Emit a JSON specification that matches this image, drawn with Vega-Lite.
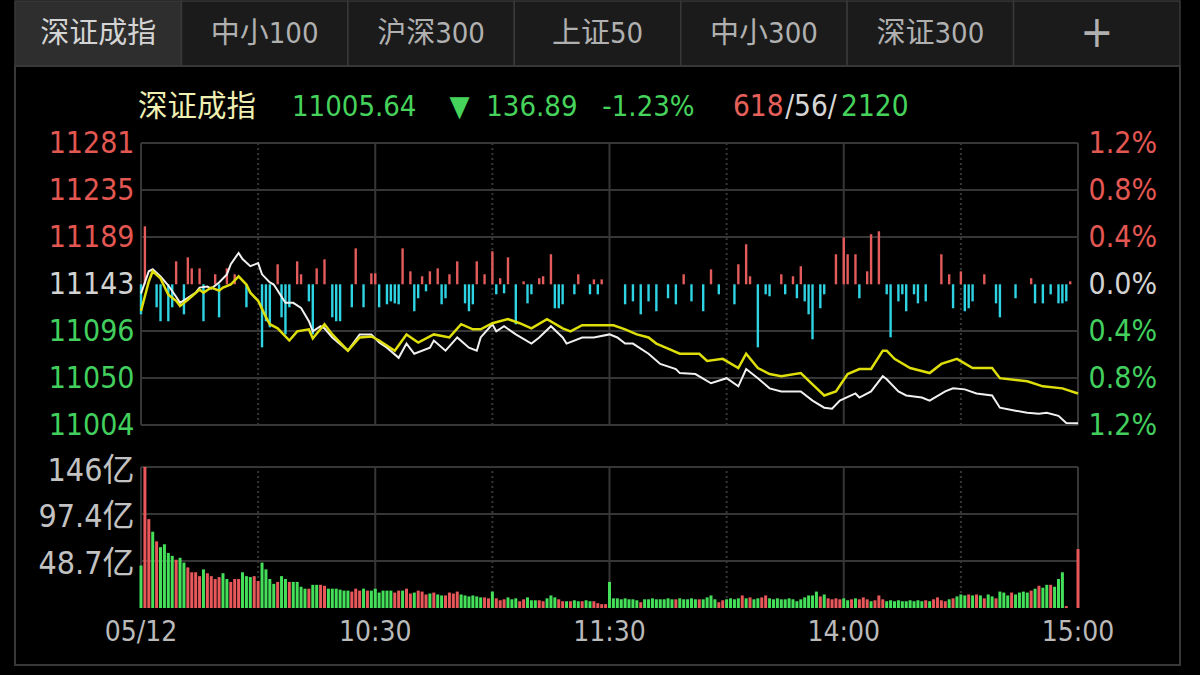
{
  "$schema": "https://vega.github.io/schema/vega-lite/v6.json",
  "background": "#000000",
  "padding": {"left": 14, "top": 0, "right": 19, "bottom": 9},
  "bounds": "flush",
  "spacing": 0,
  "config": {
    "font": "Liberation Sans Narrow, DejaVu Sans Condensed, Noto Sans CJK SC, sans-serif",
    "view": {"stroke": null},
    "axis": {"domain": false, "ticks": false, "grid": false, "labelOverlap": false, "labelFlush": false}
  },
  "datasets": {
    "vgrid": [
      {"m": 0, "kind": "solid"}, {"m": 30, "kind": "dot"}, {"m": 60, "kind": "solid"}, {"m": 90, "kind": "dot"},
      {"m": 120, "kind": "solid"}, {"m": 150, "kind": "dot"}, {"m": 180, "kind": "solid"}, {"m": 210, "kind": "dot"}, {"m": 240, "kind": "solid"}
    ],
    "price": [
      {"m":0,"p":11133},{"m":2,"p":11155},{"m":3,"p":11157},{"m":5,"p":11150},{"m":7,"p":11141},{"m":9,"p":11130},{"m":10,"p":11124},{"m":12,"p":11129},{"m":14,"p":11134},{"m":15,"p":11139},{"m":17,"p":11140},{"m":18,"p":11138},{"m":20,"p":11144},{"m":22,"p":11152},{"m":23,"p":11162},{"m":25,"p":11173},{"m":26,"p":11167},{"m":28,"p":11160},{"m":30,"p":11163},{"m":31,"p":11152},{"m":33,"p":11144},{"m":34,"p":11142},{"m":37,"p":11124},{"m":39,"p":11124},{"m":41,"p":11119},{"m":43,"p":11106},{"m":44,"p":11096},{"m":46,"p":11101},{"m":47,"p":11099},{"m":49,"p":11090},{"m":53,"p":11077},{"m":56,"p":11093},{"m":59,"p":11093},{"m":61,"p":11085},{"m":63,"p":11080},{"m":66,"p":11070},{"m":68,"p":11084},{"m":70,"p":11074},{"m":74,"p":11080},{"m":75,"p":11087},{"m":78,"p":11077},{"m":81,"p":11090},{"m":84,"p":11080},{"m":86,"p":11077},{"m":87,"p":11090},{"m":90,"p":11103},{"m":91,"p":11096},{"m":93,"p":11101},{"m":96,"p":11093},{"m":100,"p":11084},{"m":102,"p":11090},{"m":105,"p":11101},{"m":108,"p":11090},{"m":109,"p":11084},{"m":113,"p":11090},{"m":116,"p":11090},{"m":120,"p":11093},{"m":122,"p":11090},{"m":124,"p":11084},{"m":126,"p":11084},{"m":130,"p":11074},{"m":133,"p":11064},{"m":137,"p":11059},{"m":138,"p":11055},{"m":142,"p":11054},{"m":146,"p":11045},{"m":150,"p":11050},{"m":153,"p":11042},{"m":155,"p":11059},{"m":158,"p":11050},{"m":161,"p":11040},{"m":164,"p":11037},{"m":169,"p":11037},{"m":172,"p":11028},{"m":175,"p":11021},{"m":177,"p":11020},{"m":179,"p":11028},{"m":183,"p":11035},{"m":184,"p":11031},{"m":187,"p":11037},{"m":190,"p":11052},{"m":191,"p":11049},{"m":194,"p":11037},{"m":196,"p":11033},{"m":200,"p":11031},{"m":202,"p":11028},{"m":206,"p":11037},{"m":208,"p":11040},{"m":211,"p":11039},{"m":214,"p":11035},{"m":218,"p":11033},{"m":220,"p":11021},{"m":224,"p":11018},{"m":227,"p":11016},{"m":230,"p":11015},{"m":232,"p":11016},{"m":235,"p":11013},{"m":237,"p":11006},{"m":240,"p":11005.64}
    ],
    "avg": [
      {"m":0,"p":11116},{"m":2,"p":11145},{"m":3,"p":11155},{"m":5,"p":11148},{"m":7,"p":11132},{"m":9,"p":11126},{"m":10,"p":11121},{"m":12,"p":11127},{"m":15,"p":11137},{"m":16,"p":11134},{"m":18,"p":11139},{"m":20,"p":11136},{"m":21,"p":11139},{"m":23,"p":11142},{"m":25,"p":11150},{"m":27,"p":11142},{"m":28,"p":11134},{"m":30,"p":11126},{"m":32,"p":11110},{"m":33,"p":11103},{"m":35,"p":11099},{"m":38,"p":11087},{"m":40,"p":11096},{"m":43,"p":11098},{"m":44,"p":11089},{"m":47,"p":11103},{"m":49,"p":11093},{"m":53,"p":11077},{"m":56,"p":11090},{"m":59,"p":11091},{"m":61,"p":11087},{"m":65,"p":11077},{"m":68,"p":11093},{"m":71,"p":11085},{"m":75,"p":11093},{"m":79,"p":11090},{"m":82,"p":11103},{"m":85,"p":11098},{"m":87,"p":11098},{"m":90,"p":11104},{"m":94,"p":11108},{"m":97,"p":11104},{"m":100,"p":11099},{"m":104,"p":11108},{"m":108,"p":11099},{"m":110,"p":11096},{"m":113,"p":11102},{"m":117,"p":11102},{"m":121,"p":11102},{"m":124,"p":11098},{"m":127,"p":11093},{"m":130,"p":11090},{"m":132,"p":11084},{"m":135,"p":11079},{"m":138,"p":11074},{"m":143,"p":11074},{"m":145,"p":11067},{"m":149,"p":11069},{"m":153,"p":11060},{"m":155,"p":11074},{"m":158,"p":11060},{"m":161,"p":11054},{"m":164,"p":11052},{"m":169,"p":11055},{"m":172,"p":11044},{"m":175,"p":11033},{"m":178,"p":11037},{"m":181,"p":11054},{"m":184,"p":11059},{"m":187,"p":11059},{"m":190,"p":11077},{"m":191,"p":11077},{"m":193,"p":11069},{"m":197,"p":11060},{"m":202,"p":11055},{"m":205,"p":11064},{"m":209,"p":11069},{"m":213,"p":11060},{"m":218,"p":11060},{"m":220,"p":11050},{"m":227,"p":11047},{"m":231,"p":11042},{"m":236,"p":11040},{"m":240,"p":11035}
    ],
    "strength": [
      {"m":0,"v":-21.3},{"m":1,"v":41.1},{"m":4,"v":-16.3},{"m":5,"v":-26.2},{"m":7,"v":-26.2},{"m":8,"v":-16.3},{"m":9,"v":16.3},{"m":11,"v":-21.3},{"m":12,"v":19.1},{"m":13,"v":11.3},{"m":15,"v":11.3},{"m":16,"v":-26.2},{"m":19,"v":7.1},{"m":20,"v":-23.4},{"m":22,"v":11.3},{"m":24,"v":7.1},{"m":27,"v":-16.3},{"m":31,"v":-44.7},{"m":32,"v":-26.2},{"m":33,"v":-30.5},{"m":35,"v":14.2},{"m":36,"v":-23.4},{"m":37,"v":-35.5},{"m":38,"v":-16.3},{"m":40,"v":16.3},{"m":41,"v":7.1},{"m":43,"v":-12.1},{"m":44,"v":-35.5},{"m":45,"v":11.3},{"m":47,"v":17.7},{"m":49,"v":-23.4},{"m":50,"v":-26.2},{"m":51,"v":-26.2},{"m":54,"v":-16.3},{"m":55,"v":25.5},{"m":57,"v":-16.3},{"m":59,"v":7.8},{"m":60,"v":7.8},{"m":61,"v":-16.3},{"m":63,"v":-14.2},{"m":64,"v":-12.1},{"m":65,"v":-13.5},{"m":66,"v":-14.2},{"m":67,"v":25.5},{"m":69,"v":9.2},{"m":70,"v":-19.1},{"m":71,"v":-9.9},{"m":72,"v":5.7},{"m":73,"v":-5.0},{"m":74,"v":9.2},{"m":76,"v":11.3},{"m":77,"v":-14.2},{"m":78,"v":-9.9},{"m":79,"v":7.1},{"m":81,"v":16.3},{"m":83,"v":-13.5},{"m":84,"v":-19.1},{"m":85,"v":-14.2},{"m":86,"v":16.3},{"m":88,"v":7.1},{"m":90,"v":23.4},{"m":91,"v":-7.1},{"m":92,"v":4.3},{"m":93,"v":-6.4},{"m":94,"v":19.1},{"m":96,"v":-28.4},{"m":98,"v":2.1},{"m":99,"v":-13.5},{"m":100,"v":-7.1},{"m":102,"v":4.3},{"m":103,"v":5.7},{"m":105,"v":21.3},{"m":106,"v":-17.0},{"m":107,"v":-17.0},{"m":108,"v":-14.2},{"m":111,"v":-7.1},{"m":112,"v":7.1},{"m":115,"v":-7.1},{"m":116,"v":3.5},{"m":117,"v":-7.1},{"m":118,"v":3.5},{"m":124,"v":-14.2},{"m":126,"v":-12.1},{"m":128,"v":-21.3},{"m":130,"v":-12.1},{"m":132,"v":-19.1},{"m":135,"v":-9.9},{"m":137,"v":-14.2},{"m":139,"v":7.1},{"m":141,"v":-12.1},{"m":144,"v":-19.1},{"m":146,"v":10.6},{"m":148,"v":-7.1},{"m":152,"v":-14.2},{"m":153,"v":14.2},{"m":155,"v":28.4},{"m":156,"v":5.7},{"m":158,"v":-44.7},{"m":160,"v":-7.1},{"m":161,"v":-8.5},{"m":164,"v":7.1},{"m":165,"v":-7.1},{"m":167,"v":5.7},{"m":168,"v":-9.9},{"m":169,"v":12.8},{"m":170,"v":-12.1},{"m":171,"v":-21.3},{"m":172,"v":-39.0},{"m":174,"v":-17.0},{"m":175,"v":-7.1},{"m":178,"v":21.3},{"m":180,"v":33.3},{"m":181,"v":21.3},{"m":183,"v":21.3},{"m":184,"v":-9.9},{"m":186,"v":9.2},{"m":187,"v":35.5},{"m":189,"v":37.6},{"m":191,"v":-7.1},{"m":192,"v":-37.6},{"m":194,"v":-12.1},{"m":195,"v":-7.1},{"m":196,"v":-19.1},{"m":198,"v":-7.1},{"m":199,"v":-13.5},{"m":201,"v":-12.1},{"m":205,"v":21.3},{"m":207,"v":7.1},{"m":208,"v":-17.0},{"m":210,"v":9.2},{"m":211,"v":-19.1},{"m":212,"v":-17.0},{"m":213,"v":-12.1},{"m":216,"v":7.1},{"m":219,"v":-13.5},{"m":220,"v":-23.4},{"m":224,"v":-9.9},{"m":228,"v":4.3},{"m":229,"v":-13.5},{"m":231,"v":-13.5},{"m":233,"v":-7.1},{"m":235,"v":-13.5},{"m":236,"v":-13.5},{"m":237,"v":-12.1},{"m":238,"v":2.1}
    ],
    "vol": [
      {"m":0,"v":44,"d":"dn"},{"m":1,"v":146,"d":"up"},{"m":2,"v":92,"d":"up"},{"m":3,"v":79,"d":"dn"},{"m":4,"v":69,"d":"up"},{"m":5,"v":63,"d":"dn"},{"m":6,"v":66,"d":"dn"},{"m":7,"v":57,"d":"dn"},{"m":8,"v":54,"d":"dn"},{"m":9,"v":50,"d":"up"},
      {"m":10,"v":52,"d":"dn"},{"m":11,"v":47,"d":"dn"},{"m":12,"v":42,"d":"up"},{"m":13,"v":37,"d":"up"},{"m":14,"v":37,"d":"up"},{"m":15,"v":33,"d":"up"},{"m":16,"v":40,"d":"dn"},{"m":17,"v":36,"d":"up"},{"m":18,"v":33,"d":"up"},{"m":19,"v":30,"d":"up"},
      {"m":20,"v":32,"d":"up"},{"m":21,"v":36,"d":"dn"},{"m":22,"v":30,"d":"dn"},{"m":23,"v":27,"d":"up"},{"m":24,"v":30,"d":"up"},{"m":25,"v":30,"d":"up"},{"m":26,"v":37,"d":"dn"},{"m":27,"v":33,"d":"dn"},{"m":28,"v":32,"d":"dn"},{"m":29,"v":33,"d":"up"},
      {"m":30,"v":28,"d":"up"},{"m":31,"v":47,"d":"dn"},{"m":32,"v":40,"d":"dn"},{"m":33,"v":30,"d":"dn"},{"m":34,"v":25,"d":"dn"},{"m":35,"v":27,"d":"up"},{"m":36,"v":33,"d":"dn"},{"m":37,"v":30,"d":"dn"},{"m":38,"v":27,"d":"up"},{"m":39,"v":27,"d":"dn"},
      {"m":40,"v":27,"d":"dn"},{"m":41,"v":22,"d":"dn"},{"m":42,"v":20,"d":"dn"},{"m":43,"v":20,"d":"up"},{"m":44,"v":24,"d":"dn"},{"m":45,"v":24,"d":"dn"},{"m":46,"v":24,"d":"up"},{"m":47,"v":23,"d":"up"},{"m":48,"v":20,"d":"dn"},{"m":49,"v":20,"d":"dn"},
      {"m":50,"v":20,"d":"dn"},{"m":51,"v":19,"d":"dn"},{"m":52,"v":18,"d":"dn"},{"m":53,"v":18,"d":"dn"},{"m":54,"v":17,"d":"up"},{"m":55,"v":20,"d":"up"},{"m":56,"v":18,"d":"up"},{"m":57,"v":20,"d":"dn"},{"m":58,"v":18,"d":"up"},{"m":59,"v":18,"d":"dn"},
      {"m":60,"v":20,"d":"dn"},{"m":61,"v":16,"d":"dn"},{"m":62,"v":18,"d":"dn"},{"m":63,"v":18,"d":"dn"},{"m":64,"v":18,"d":"dn"},{"m":65,"v":16,"d":"up"},{"m":66,"v":18,"d":"up"},{"m":67,"v":18,"d":"dn"},{"m":68,"v":20,"d":"up"},{"m":69,"v":15,"d":"up"},
      {"m":70,"v":16,"d":"dn"},{"m":71,"v":18,"d":"up"},{"m":72,"v":17,"d":"up"},{"m":73,"v":14,"d":"up"},{"m":74,"v":15,"d":"dn"},{"m":75,"v":16,"d":"up"},{"m":76,"v":14,"d":"dn"},{"m":77,"v":13,"d":"dn"},{"m":78,"v":13,"d":"up"},{"m":79,"v":16,"d":"up"},
      {"m":80,"v":15,"d":"up"},{"m":81,"v":17,"d":"up"},{"m":82,"v":14,"d":"dn"},{"m":83,"v":13,"d":"dn"},{"m":84,"v":12,"d":"dn"},{"m":85,"v":13,"d":"dn"},{"m":86,"v":12,"d":"dn"},{"m":87,"v":11,"d":"dn"},{"m":88,"v":11,"d":"up"},{"m":89,"v":10,"d":"up"},
      {"m":90,"v":17,"d":"dn"},{"m":91,"v":10,"d":"up"},{"m":92,"v":8,"d":"up"},{"m":93,"v":9,"d":"up"},{"m":94,"v":11,"d":"dn"},{"m":95,"v":9,"d":"dn"},{"m":96,"v":10,"d":"dn"},{"m":97,"v":7,"d":"up"},{"m":98,"v":9,"d":"up"},{"m":99,"v":11,"d":"dn"},
      {"m":100,"v":8,"d":"dn"},{"m":101,"v":8,"d":"dn"},{"m":102,"v":8,"d":"up"},{"m":103,"v":7,"d":"up"},{"m":104,"v":10,"d":"dn"},{"m":105,"v":13,"d":"dn"},{"m":106,"v":11,"d":"dn"},{"m":107,"v":9,"d":"up"},{"m":108,"v":7,"d":"up"},{"m":109,"v":7,"d":"dn"},
      {"m":110,"v":7,"d":"up"},{"m":111,"v":8,"d":"dn"},{"m":112,"v":7,"d":"dn"},{"m":113,"v":7,"d":"up"},{"m":114,"v":8,"d":"dn"},{"m":115,"v":7,"d":"dn"},{"m":116,"v":7,"d":"up"},{"m":117,"v":5,"d":"up"},{"m":118,"v":4,"d":"up"},{"m":119,"v":4,"d":"up"},
      {"m":120,"v":27,"d":"dn"},{"m":121,"v":10,"d":"dn"},{"m":122,"v":10,"d":"dn"},{"m":123,"v":9,"d":"dn"},{"m":124,"v":10,"d":"dn"},{"m":125,"v":9,"d":"dn"},{"m":126,"v":9,"d":"dn"},{"m":127,"v":8,"d":"dn"},{"m":128,"v":6,"d":"up"},{"m":129,"v":9,"d":"dn"},
      {"m":130,"v":9,"d":"dn"},{"m":131,"v":10,"d":"dn"},{"m":132,"v":9,"d":"dn"},{"m":133,"v":9,"d":"dn"},{"m":134,"v":9,"d":"dn"},{"m":135,"v":10,"d":"dn"},{"m":136,"v":9,"d":"dn"},{"m":137,"v":9,"d":"up"},{"m":138,"v":10,"d":"dn"},{"m":139,"v":9,"d":"dn"},
      {"m":140,"v":9,"d":"dn"},{"m":141,"v":10,"d":"dn"},{"m":142,"v":9,"d":"dn"},{"m":143,"v":9,"d":"up"},{"m":144,"v":9,"d":"dn"},{"m":145,"v":11,"d":"dn"},{"m":146,"v":13,"d":"dn"},{"m":147,"v":9,"d":"dn"},{"m":148,"v":6,"d":"up"},{"m":149,"v":8,"d":"up"},
      {"m":150,"v":9,"d":"dn"},{"m":151,"v":10,"d":"dn"},{"m":152,"v":9,"d":"dn"},{"m":153,"v":10,"d":"dn"},{"m":154,"v":13,"d":"up"},{"m":155,"v":10,"d":"dn"},{"m":156,"v":11,"d":"up"},{"m":157,"v":9,"d":"dn"},{"m":158,"v":10,"d":"dn"},{"m":159,"v":11,"d":"up"},
      {"m":160,"v":13,"d":"up"},{"m":161,"v":10,"d":"dn"},{"m":162,"v":9,"d":"dn"},{"m":163,"v":10,"d":"dn"},{"m":164,"v":9,"d":"dn"},{"m":165,"v":9,"d":"dn"},{"m":166,"v":10,"d":"dn"},{"m":167,"v":9,"d":"dn"},{"m":168,"v":7,"d":"dn"},{"m":169,"v":9,"d":"dn"},
      {"m":170,"v":11,"d":"dn"},{"m":171,"v":13,"d":"dn"},{"m":172,"v":13,"d":"dn"},{"m":173,"v":17,"d":"dn"},{"m":174,"v":12,"d":"up"},{"m":175,"v":14,"d":"dn"},{"m":176,"v":10,"d":"up"},{"m":177,"v":9,"d":"up"},{"m":178,"v":10,"d":"up"},{"m":179,"v":9,"d":"up"},
      {"m":180,"v":10,"d":"dn"},{"m":181,"v":8,"d":"dn"},{"m":182,"v":9,"d":"up"},{"m":183,"v":10,"d":"dn"},{"m":184,"v":9,"d":"up"},{"m":185,"v":11,"d":"up"},{"m":186,"v":9,"d":"up"},{"m":187,"v":7,"d":"dn"},{"m":188,"v":8,"d":"up"},{"m":189,"v":13,"d":"up"},
      {"m":190,"v":9,"d":"up"},{"m":191,"v":7,"d":"dn"},{"m":192,"v":8,"d":"dn"},{"m":193,"v":7,"d":"dn"},{"m":194,"v":8,"d":"dn"},{"m":195,"v":7,"d":"dn"},{"m":196,"v":7,"d":"dn"},{"m":197,"v":8,"d":"dn"},{"m":198,"v":7,"d":"dn"},{"m":199,"v":8,"d":"dn"},
      {"m":200,"v":7,"d":"dn"},{"m":201,"v":8,"d":"up"},{"m":202,"v":7,"d":"dn"},{"m":203,"v":9,"d":"up"},{"m":204,"v":11,"d":"up"},{"m":205,"v":8,"d":"up"},{"m":206,"v":7,"d":"up"},{"m":207,"v":9,"d":"dn"},{"m":208,"v":10,"d":"up"},{"m":209,"v":12,"d":"dn"},
      {"m":210,"v":14,"d":"dn"},{"m":211,"v":13,"d":"dn"},{"m":212,"v":14,"d":"up"},{"m":213,"v":13,"d":"dn"},{"m":214,"v":14,"d":"up"},{"m":215,"v":13,"d":"dn"},{"m":216,"v":10,"d":"up"},{"m":217,"v":14,"d":"dn"},{"m":218,"v":12,"d":"dn"},{"m":219,"v":10,"d":"up"},
      {"m":220,"v":17,"d":"dn"},{"m":221,"v":16,"d":"dn"},{"m":222,"v":13,"d":"dn"},{"m":223,"v":16,"d":"up"},{"m":224,"v":14,"d":"dn"},{"m":225,"v":16,"d":"dn"},{"m":226,"v":17,"d":"dn"},{"m":227,"v":16,"d":"dn"},{"m":228,"v":18,"d":"up"},{"m":229,"v":20,"d":"dn"},
      {"m":230,"v":23,"d":"up"},{"m":231,"v":21,"d":"dn"},{"m":232,"v":24,"d":"dn"},{"m":233,"v":24,"d":"up"},{"m":234,"v":22,"d":"dn"},{"m":235,"v":30,"d":"dn"},{"m":236,"v":37,"d":"dn"},{"m":237,"v":2,"d":"up"},{"m":240,"v":61,"d":"up"}
    ]
  },
  "vconcat": [
    {
      "width": 1165,
      "height": 65,
      "view": {"stroke": null, "fill": "#1b1b1b"},
      "data": {"values": [
        {"tab": "深证成指", "sel": 1}, {"tab": "中小100", "sel": 0}, {"tab": "沪深300", "sel": 0},
        {"tab": "上证50", "sel": 0}, {"tab": "中小300", "sel": 0}, {"tab": "深证300", "sel": 0}, {"tab": "+", "sel": 0}
      ]},
      "encoding": {
        "x": {"field": "tab", "type": "nominal", "sort": null, "scale": {"paddingInner": 0, "paddingOuter": 0}, "axis": null}
      },
      "layer": [
        {
          "mark": {"type": "rect", "stroke": "#383838", "strokeWidth": 1.5},
          "encoding": {"fill": {"condition": {"test": "datum.sel == 1", "value": "#2e2e2e"}, "value": "#1b1b1b"}}
        },
        {
          "mark": {"type": "text", "baseline": "middle", "align": "center"},
          "encoding": {
            "text": {"field": "tab"},
            "size": {"condition": {"test": "datum.tab == '+'", "value": 44}, "value": 29},
            "color": {"condition": {"test": "datum.sel == 1", "value": "#d4d4d4"}, "value": "#b0b0b0"}
          }
        }
      ]
    },
    {
      "width": 1165,
      "height": 599,
      "view": {"stroke": "#383838", "strokeWidth": 2},
      "resolve": {"scale": {"y": "independent", "color": "independent"}},
      "layer": [
        {
          "data": {"values": [{"level": 11004}, {"level": 11050.17}, {"level": 11096.33}, {"level": 11188.67}, {"level": 11234.83}, {"level": 11281}]},
          "mark": {"type": "rule", "color": "#363636", "strokeWidth": 2},
          "encoding": {
            "x": {"datum": 0, "type": "quantitative", "scale": {"domain": [-32.273, 266.126], "nice": false, "zero": false}, "axis": null},
            "x2": {"datum": 240},
            "y": {"field": "level", "type": "quantitative", "scale": {"domain": [10768.26, 11356.64], "nice": false, "zero": false}, "axis": null}
          }
        },
        {
          "data": {"name": "vgrid"},
          "mark": {"type": "rule", "color": "#363636", "strokeWidth": 2},
          "encoding": {
            "x": {"field": "m", "type": "quantitative", "scale": {"domain": [-32.273, 266.126], "nice": false, "zero": false}, "axis": null},
            "y": {"datum": 11004, "type": "quantitative", "scale": {"domain": [10768.26, 11356.64], "nice": false, "zero": false}, "axis": null},
            "y2": {"datum": 11281},
            "strokeDash": {"field": "kind", "type": "nominal", "scale": {"domain": ["solid", "dot"], "range": [[1, 0], [2, 3]]}, "legend": null}
          }
        },
        {
          "data": {"values": [{"level": 48.7}, {"level": 97.4}, {"level": 146}]},
          "mark": {"type": "rule", "color": "#363636", "strokeWidth": 2},
          "encoding": {
            "x": {"datum": 0, "type": "quantitative", "scale": {"domain": [-32.273, 266.126], "nice": false, "zero": false}, "axis": null},
            "x2": {"datum": 240},
            "y": {"field": "level", "type": "quantitative", "scale": {"domain": [-59.02, 561.22], "nice": false, "zero": false}, "axis": null}
          }
        },
        {
          "data": {"name": "vgrid"},
          "mark": {"type": "rule", "color": "#363636", "strokeWidth": 2},
          "encoding": {
            "x": {"field": "m", "type": "quantitative", "scale": {"domain": [-32.273, 266.126], "nice": false, "zero": false}, "axis": null},
            "y": {"datum": 0, "type": "quantitative", "scale": {"domain": [-59.02, 561.22], "nice": false, "zero": false}, "axis": null},
            "y2": {"datum": 146},
            "strokeDash": {"field": "kind", "type": "nominal", "scale": {"domain": ["solid", "dot"], "range": [[1, 0], [2, 3]]}, "legend": null}
          }
        },
        {
          "data": {"name": "strength"},
          "mark": {"type": "rule", "strokeWidth": 2.4},
          "encoding": {
            "x": {"field": "m", "type": "quantitative", "scale": {"domain": [-32.273, 266.126], "nice": false, "zero": false}, "axis": null},
            "y": {"field": "v", "type": "quantitative", "scale": {"domain": [-270.0, 154.82], "nice": false, "zero": false}, "axis": null},
            "y2": {"datum": 0},
            "color": {"condition": {"test": "datum.v > 0", "value": "#e45b5b"}, "value": "#2fd4e4"}
          }
        },
        {
          "data": {"name": "vol"},
          "mark": {"type": "rule", "strokeWidth": 3},
          "encoding": {
            "x": {"field": "m", "type": "quantitative", "scale": {"domain": [-32.273, 266.126], "nice": false, "zero": false}, "axis": null},
            "y": {"field": "v", "type": "quantitative", "scale": {"domain": [-59.02, 561.22], "nice": false, "zero": false},
                  "axis": {"orient": "left", "offset": -126, "values": [48.7, 97.4, 146], "labelExpr": "datum.value + '亿'", "labelColor": "#c2c2c2", "labelFontSize": 32, "labelPadding": 7, "labelBaseline": "middle", "labelOffset": 3, "title": null}},
            "y2": {"datum": 0},
            "color": {"field": "d", "type": "nominal", "scale": {"domain": ["up", "dn"], "range": ["#e8585a", "#44e05a"]}, "legend": null}
          }
        },
        {
          "data": {"values": [{"m": 0, "label": "05/12"}, {"m": 60, "label": "10:30"}, {"m": 120, "label": "11:30"}, {"m": 180, "label": "14:00"}, {"m": 240, "label": "15:00"}]},
          "mark": {"type": "text", "align": "center", "baseline": "middle", "fontSize": 28, "color": "#bababa"},
          "encoding": {
            "x": {"field": "m", "type": "quantitative", "scale": {"domain": [-32.273, 266.126], "nice": false, "zero": false}, "axis": null},
            "y": {"datum": -26, "type": "quantitative", "scale": {"domain": [-59.02, 561.22], "nice": false, "zero": false}, "axis": null},
            "text": {"field": "label"}
          }
        },
        {
          "data": {"name": "price"},
          "mark": {"type": "line", "color": "#f0f0f0", "strokeWidth": 2},
          "encoding": {
            "x": {"field": "m", "type": "quantitative", "scale": {"domain": [-32.273, 266.126], "nice": false, "zero": false}, "axis": null},
            "y": {"field": "p", "type": "quantitative", "scale": {"domain": [10768.26, 11356.64], "nice": false, "zero": false},
                  "axis": {"orient": "left", "offset": -126, "values": [11004, 11050.17, 11096.33, 11142.5, 11188.67, 11234.83, 11281], "labelExpr": "format(datum.value, '.0f')", "labelFontSize": 30, "labelPadding": 7, "labelBaseline": "middle", "title": null,
                           "labelColor": {"condition": [{"test": "datum.value > 11143", "value": "#e35752"}, {"test": "datum.value < 11142", "value": "#42cf5e"}], "value": "#d2d2d2"}}}
          }
        },
        {
          "data": {"name": "avg"},
          "mark": {"type": "line", "color": "#dede0a", "strokeWidth": 2.5},
          "encoding": {
            "x": {"field": "m", "type": "quantitative", "scale": {"domain": [-32.273, 266.126], "nice": false, "zero": false}, "axis": null},
            "y": {"field": "p", "type": "quantitative", "scale": {"domain": [10768.26, 11356.64], "nice": false, "zero": false},
                  "axis": {"orient": "right", "offset": -102, "values": [11004, 11050.17, 11096.33, 11142.5, 11188.67, 11234.83, 11281], "labelExpr": "format(abs(datum.value - 11142.53) / 11142.53 * 100, '.1f') + '%'", "labelFontSize": 30, "labelPadding": 10, "labelBaseline": "middle", "title": null,
                           "labelColor": {"condition": [{"test": "datum.value > 11143", "value": "#e35752"}, {"test": "datum.value < 11142", "value": "#42cf5e"}], "value": "#d2d2d2"}}}
          }
        },
        {
          "data": {"values": [{"label": "深证成指"}]},
          "mark": {"type": "text", "align": "left", "baseline": "middle", "fontSize": 29.5, "color": "#efefb2", "font": "Noto Sans CJK SC"},
          "encoding": {
            "x": {"datum": -0.77, "type": "quantitative", "scale": {"domain": [-32.273, 266.126], "nice": false, "zero": false}, "axis": null},
            "y": {"datum": 11316, "type": "quantitative", "scale": {"domain": [10768.26, 11356.64], "nice": false, "zero": false}, "axis": null},
            "text": {"field": "label"}
          }
        },
        {
          "data": {"values": [{"label": "11005.64\u00a0\u00a0\u00a0\u00a0▼\u00a0\u00a0136.89\u00a0\u00a0\u00a0-1.23%"}]},
          "mark": {"type": "text", "align": "left", "baseline": "middle", "fontSize": 29, "color": "#46d35c"},
          "encoding": {
            "x": {"datum": 38.68, "type": "quantitative", "scale": {"domain": [-32.273, 266.126], "nice": false, "zero": false}, "axis": null},
            "y": {"datum": 11316, "type": "quantitative", "scale": {"domain": [10768.26, 11356.64], "nice": false, "zero": false}, "axis": null},
            "text": {"field": "label"}
          }
        },
        {
          "data": {"values": [{"label": "618"}]},
          "mark": {"type": "text", "align": "right", "baseline": "middle", "fontSize": 29.5, "color": "#e6605a"},
          "encoding": {
            "x": {"datum": 164.6, "type": "quantitative", "scale": {"domain": [-32.273, 266.126], "nice": false, "zero": false}, "axis": null},
            "y": {"datum": 11316, "type": "quantitative", "scale": {"domain": [10768.26, 11356.64], "nice": false, "zero": false}, "axis": null},
            "text": {"field": "label"}
          }
        },
        {
          "data": {"values": [{"label": "/56/"}]},
          "mark": {"type": "text", "align": "center", "baseline": "middle", "fontSize": 29.5, "color": "#d6d6d6"},
          "encoding": {
            "x": {"datum": 171.6, "type": "quantitative", "scale": {"domain": [-32.273, 266.126], "nice": false, "zero": false}, "axis": null},
            "y": {"datum": 11316, "type": "quantitative", "scale": {"domain": [10768.26, 11356.64], "nice": false, "zero": false}, "axis": null},
            "text": {"field": "label"}
          }
        },
        {
          "data": {"values": [{"label": "2120"}]},
          "mark": {"type": "text", "align": "left", "baseline": "middle", "fontSize": 29.5, "color": "#46d35c"},
          "encoding": {
            "x": {"datum": 179.3, "type": "quantitative", "scale": {"domain": [-32.273, 266.126], "nice": false, "zero": false}, "axis": null},
            "y": {"datum": 11316, "type": "quantitative", "scale": {"domain": [10768.26, 11356.64], "nice": false, "zero": false}, "axis": null},
            "text": {"field": "label"}
          }
        }
      ]
    }
  ]
}
